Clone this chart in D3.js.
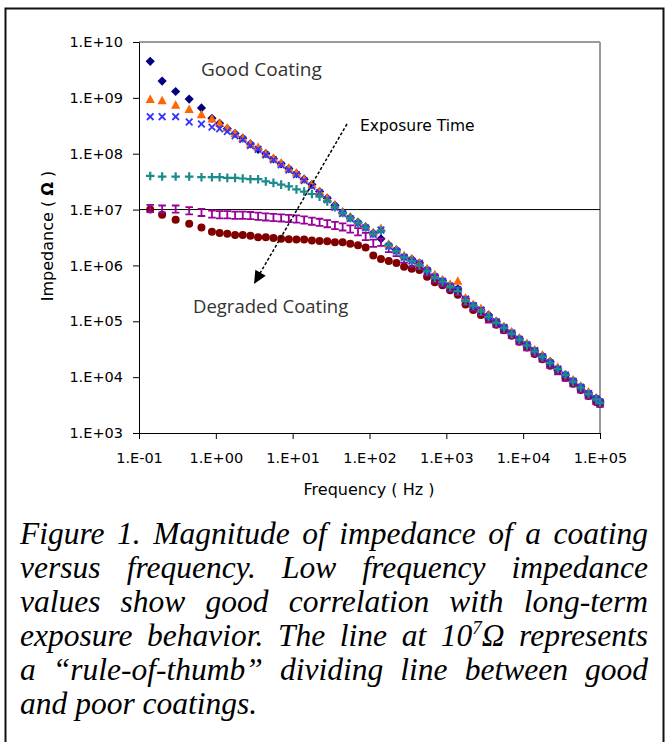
<!DOCTYPE html>
<html>
<head>
<meta charset="utf-8">
<script src="https://cdn.jsdelivr.net/npm/d3@7"></script>
<style>
  html, body { margin: 0; padding: 0; background: #fff; }
  svg { display: block; }
</style>
</head>
<body>
<script>
// ---------------- DATA ----------------
const freq = [0.14, 0.2, 0.3, 0.45, 0.65,
  0.89, 1.12, 1.41, 1.78, 2.24, 2.82, 3.55, 4.47, 5.62, 7.08,
  8.91, 11.2, 14.1, 17.8, 22.4, 28.2, 35.5, 44.7, 56.2, 70.8,
  89.1, 112, 141, 178, 224, 282, 355, 447, 562, 708,
  891, 1120, 1410, 1780, 2240, 2820, 3550, 4470, 5620, 7080,
  8910, 11200, 14100, 17800, 22400, 28200, 35500, 44700, 56200, 70800,
  89100, 100000];

const zDiamond = [4.5e9, 2.0e9, 1.3e9, 9.5e8, 6.6e8,
  4.3e8, 3.5e8, 2.8e8, 2.3e8, 1.9e8, 1.5e8, 1.2e8, 1.0e8, 8.1e7, 6.6e7,
  5.4e7, 4.4e7, 3.5e7, 2.8e7, 2.1e7, 1.6e7, 1.2e7, 8.9e6, 7.2e6, 5.9e6,
  4.9e6, 3.8e6, 3.0e6, 2.3e6, 1.9e6, 1.4e6, 1.3e6, 1.1e6, 8.5e5, 6.5e5,
  5.4e5, 4.4e5, 3.8e5, 2.5e5, 1.9e5, 1.6e5, 1.3e5, 1.0e5, 7.9e4, 6.3e4,
  4.9e4, 3.9e4, 3.0e4, 2.4e4, 1.9e4, 1.4e4, 1.1e4, 8.7e3, 6.8e3, 5.2e3,
  4.2e3, 3.7e3];

const zTriangle = [9.3e8, 8.9e8, 7.4e8, 6.2e8, 5.0e8,
  4.2e8, 3.5e8, 2.9e8, 2.3e8, 1.9e8, 1.5e8, 1.3e8, 1.0e8, 8.3e7, 6.8e7,
  5.5e7, 4.5e7, 3.5e7, 2.8e7, 2.1e7, 1.6e7, 1.2e7, 9.1e6, 7.4e6, 6.0e6,
  5.0e6, 3.9e6, 4.6e6, 2.4e6, 1.9e6, 1.5e6, 1.3e6, 1.1e6, 8.7e5, 6.8e5,
  5.5e5, 4.6e5, 5.2e5, 2.6e5, 2.0e5, 1.7e5, 1.3e5, 1.0e5, 8.1e4, 6.5e4,
  5.0e4, 4.0e4, 3.1e4, 2.5e4, 1.9e4, 1.5e4, 1.1e4, 8.9e3, 6.9e3, 5.4e3,
  4.2e3, 3.6e3];

const zCross = [4.6e8, 4.6e8, 4.6e8, 3.7e8, 3.4e8,
  3.0e8, 2.8e8, 2.5e8, 2.1e8, 1.8e8, 1.4e8, 1.2e8, 9.5e7, 7.8e7, 6.3e7,
  5.1e7, 4.2e7, 3.3e7, 2.6e7, 2.0e7, 1.5e7, 1.1e7, 8.5e6, 6.9e6, 5.6e6,
  4.7e6, 3.6e6, 4.3e6, 2.2e6, 1.8e6, 1.4e6, 1.2e6, 1.1e6, 8.1e5, 6.3e5,
  5.2e5, 4.3e5, 3.7e5, 2.5e5, 1.9e5, 1.6e5, 1.2e5, 9.8e4, 7.8e4, 6.2e4,
  4.8e4, 3.8e4, 3.0e4, 2.3e4, 1.8e4, 1.4e4, 1.1e4, 8.5e3, 6.6e3, 5.1e3,
  4.1e3, 3.6e3];

const zPlus = [4.0e7, 3.9e7, 3.9e7, 3.9e7, 3.8e7,
  3.8e7, 3.8e7, 3.7e7, 3.7e7, 3.6e7, 3.5e7, 3.5e7, 3.2e7, 3.0e7, 2.8e7,
  2.6e7, 2.3e7, 2.1e7, 1.9e7, 1.7e7, 1.4e7, 1.1e7, 8.7e6, 7.1e6, 5.8e6,
  4.8e6, 3.7e6, 4.2e6, 2.3e6, 1.8e6, 1.4e6, 1.2e6, 1.0e6, 7.9e5, 6.0e5,
  5.1e5, 4.1e5, 3.5e5, 2.3e5, 1.9e5, 1.5e5, 1.2e5, 9.5e4, 7.6e4, 6.0e4,
  4.7e4, 3.7e4, 2.9e4, 2.3e4, 1.8e4, 1.4e4, 1.1e4, 8.3e3, 6.5e3, 5.0e3,
  4.0e3, 3.5e3];

const zBar = [1.05e7, 1.02e7, 1.02e7, 9.5e6, 8.9e6,
  8.3e6, 8.1e6, 8.1e6, 7.9e6, 7.9e6, 7.8e6, 7.6e6, 7.4e6, 7.2e6, 7.1e6,
  6.9e6, 6.8e6, 6.5e6, 6.2e6, 5.9e6, 5.6e6, 5.2e6, 4.9e6, 4.5e6, 4.0e6,
  3.3e6, 2.5e6, 2.6e6, 2.0e6, 1.7e6, 1.3e6, 1.1e6, 1.0e6, 7.6e5, 5.8e5,
  4.9e5, 4.0e5, 3.4e5, 2.3e5, 1.8e5, 1.5e5, 1.1e5, 9.1e4, 7.2e4, 5.8e4,
  4.5e4, 3.5e4, 2.8e4, 2.2e4, 1.7e4, 1.3e4, 1.0e4, 7.9e3, 6.2e3, 4.8e3,
  3.8e3, 3.4e3];

const zCircle = [1.0e7, 8.1e6, 6.6e6, 5.6e6, 4.8e6,
  4.0e6, 3.8e6, 3.7e6, 3.5e6, 3.5e6, 3.4e6, 3.2e6, 3.2e6, 3.1e6, 3.0e6,
  2.95e6, 2.9e6, 2.9e6, 2.8e6, 2.75e6, 2.7e6, 2.6e6, 2.6e6, 2.45e6, 2.3e6,
  2.1e6, 1.5e6, 1.3e6, 1.2e6, 1.1e6, 9.5e5, 8.7e5, 8.3e5, 6.3e5, 5.0e5,
  4.4e5, 3.6e5, 3.0e5, 2.0e5, 1.6e5, 1.3e5, 1.1e5, 8.7e4, 6.9e4, 5.5e4,
  4.3e4, 3.4e4, 2.6e4, 2.1e4, 1.6e4, 1.3e4, 9.8e3, 7.6e3, 5.9e3, 4.6e3,
  3.6e3, 3.3e3];

const xTicks = [1e-1, 1e0, 1e1, 1e2, 1e3, 1e4, 1e5];
const xTickLabels = ["1.E-01", "1.E+00", "1.E+01", "1.E+02", "1.E+03", "1.E+04", "1.E+05"];
const yTicks = [1e3, 1e4, 1e5, 1e6, 1e7, 1e8, 1e9, 1e10];
const yTickLabels = ["1.E+03", "1.E+04", "1.E+05", "1.E+06", "1.E+07", "1.E+08", "1.E+09", "1.E+10"];
const ruleLine = [1e7];

const captionLines = [
  "Figure 1.  Magnitude of impedance of a coating",
  "versus frequency.  Low frequency impedance",
  "values show good correlation with long-term",
  "exposure behavior.  The line at 10^7Ω represents",
  "a \u201Crule-of-thumb\u201D dividing line between good",
  "and poor coatings."
];

// ---------------- CHART ----------------
const W = 666, H = 742;
const svg = d3.select("body").append("svg").attr("width", W).attr("height", H);
svg.append("rect").attr("width", W).attr("height", H).attr("fill", "#fff");

// outer frame
svg.append("rect").attr("x", 5.5).attr("y", 8.5).attr("width", 658).attr("height", 745)
  .attr("fill", "none").attr("stroke", "#111").attr("stroke-width", 2);

const x = d3.scaleLog().domain([1e-1, 1e5]).range([139, 600]);
const y = d3.scaleLog().domain([1e3, 1e10]).range([433, 42]);

// plot border (grey top and right)
svg.append("line").attr("x1", 139).attr("x2", 600).attr("y1", 42).attr("y2", 42)
  .attr("stroke", "#9a9a9a").attr("stroke-width", 2);
svg.append("line").attr("x1", 600).attr("x2", 600).attr("y1", 42).attr("y2", 433)
  .attr("stroke", "#9a9a9a").attr("stroke-width", 2);

// axes
const axisFont = "'DejaVu Sans', Verdana, sans-serif";
const gx = svg.append("g").attr("transform", "translate(0,433)")
  .call(d3.axisBottom(x).tickValues(xTicks).tickFormat((d, i) => xTickLabels[i])
    .tickSize(6).tickSizeOuter(0).tickPadding(14));
const gy = svg.append("g").attr("transform", "translate(139,0)")
  .call(d3.axisLeft(y).tickValues(yTicks).tickFormat((d, i) => yTickLabels[i])
    .tickSize(6).tickSizeOuter(0).tickPadding(10));
[gx, gy].forEach(g => {
  g.selectAll("text").attr("font-family", axisFont).attr("font-size", 14.5).attr("fill", "#000");
  g.selectAll("path,line").attr("stroke", "#000").attr("stroke-width", 1);
});

// rule-of-thumb line
svg.selectAll(".rule").data(ruleLine).enter().append("line")
  .attr("x1", 139).attr("x2", 600).attr("y1", d => y(d)).attr("y2", d => y(d))
  .attr("stroke", "#000").attr("stroke-width", 1);

// markers
const series = [
  { vals: zDiamond, color: "#000080", shape: "diamond" },
  { vals: zTriangle, color: "#ff6600", shape: "triangle" },
  { vals: zCircle, color: "#800000", shape: "circle" },
  { vals: zBar, color: "#990099", shape: "ibar" },
  { vals: zCross, color: "#3333ff", shape: "cross" },
  { vals: zPlus, color: "#1a8c8c", shape: "plus" }
];

series.forEach(s => {
  const pts = freq.map((f, i) => [x(f), y(s.vals[i])]);
  const g = svg.append("g");
  pts.forEach(([px, py]) => {
    if (s.shape === "diamond") {
      g.append("path").attr("d", `M${px},${py - 4.6}L${px + 4.6},${py}L${px},${py + 4.6}L${px - 4.6},${py}Z`)
        .attr("fill", s.color);
    } else if (s.shape === "triangle") {
      g.append("path").attr("d", `M${px},${py - 5}L${px + 4.6},${py + 3.5}L${px - 4.6},${py + 3.5}Z`)
        .attr("fill", s.color);
    } else if (s.shape === "circle") {
      g.append("circle").attr("cx", px).attr("cy", py).attr("r", 4).attr("fill", s.color);
    } else if (s.shape === "cross") {
      g.append("path").attr("d", `M${px - 3.3},${py - 3.3}L${px + 3.3},${py + 3.3}M${px + 3.3},${py - 3.3}L${px - 3.3},${py + 3.3}`)
        .attr("stroke", s.color).attr("stroke-width", 1.8).attr("fill", "none");
    } else if (s.shape === "plus") {
      g.append("path").attr("d", `M${px - 4.3},${py}L${px + 4.3},${py}M${px},${py - 4.3}L${px},${py + 4.3}`)
        .attr("stroke", s.color).attr("stroke-width", 2.2).attr("fill", "none");
    } else if (s.shape === "ibar") {
      g.append("path").attr("d", `M${px - 3.8},${py - 3.6}L${px + 3.8},${py - 3.6}M${px},${py - 3.6}L${px},${py + 3.6}M${px - 3.8},${py + 3.6}L${px + 3.8},${py + 3.6}`)
        .attr("stroke", s.color).attr("stroke-width", 1.8).attr("fill", "none");
    }
  });
});

// axis titles
svg.append("text").attr("x", 369).attr("y", 495).attr("text-anchor", "middle")
  .attr("font-family", axisFont).attr("font-size", 16).attr("fill", "#000")
  .text("Frequency ( Hz )");
const yt = svg.append("text").attr("transform", "translate(53,236) rotate(-90)")
  .attr("text-anchor", "middle").attr("font-family", axisFont).attr("font-size", 16).attr("fill", "#000");
yt.append("tspan").text("Impedance ( ");
yt.append("tspan").attr("font-weight", "bold").text("Ω");
yt.append("tspan").text(" )");

// annotations
const annFont = "'Open Sans', 'Noto Sans', sans-serif";
svg.append("text").attr("x", 201).attr("y", 76).attr("font-family", annFont).attr("font-size", 19)
  .attr("fill", "#333").text("Good Coating");
svg.append("text").attr("x", 193).attr("y", 313).attr("font-family", annFont).attr("font-size", 18.5)
  .attr("fill", "#333").text("Degraded Coating");
svg.append("text").attr("x", 360).attr("y", 131).attr("font-family", axisFont).attr("font-size", 15.5)
  .attr("fill", "#000").text("Exposure Time");

// arrow
svg.append("line").attr("x1", 347).attr("y1", 124).attr("x2", 259).attr("y2", 275)
  .attr("stroke", "#000").attr("stroke-width", 1.5).attr("stroke-dasharray", "3,2");
(function () {
  const x0 = 347, y0 = 124, x1 = 254, y1 = 284;
  const ang = Math.atan2(y1 - y0, x1 - x0);
  const L = 13, Wd = 6;
  const bx = x1 - L * Math.cos(ang), by = y1 - L * Math.sin(ang);
  const nx = -Math.sin(ang), ny = Math.cos(ang);
  svg.append("path")
    .attr("d", `M${x1},${y1}L${bx + nx * Wd},${by + ny * Wd}L${bx - nx * Wd},${by - ny * Wd}Z`)
    .attr("fill", "#000");
})();

// caption (justified)
const capFont = "'Liberation Serif', 'Times New Roman', serif";
const capSize = 31.5;
const left = 20, right = 648;
const baselines = [544, 578, 612, 646, 680, 714];
captionLines.forEach((line, li) => {
  const words = line.split(/\s+/);
  const nodes = words.map(w => {
    const t = svg.append("text").attr("y", baselines[li]).attr("font-family", capFont)
      .attr("font-style", "italic").attr("font-size", capSize).attr("fill", "#000");
    if (w.includes("^")) {
      const [a, rest] = w.split("^");
      t.append("tspan").text(a);
      t.append("tspan").attr("font-size", 19).attr("dy", -12).text(rest[0]);
      t.append("tspan").attr("dy", 12).text(rest.slice(1));
    } else {
      t.text(w);
    }
    return t;
  });
  const widths = nodes.map(n => n.node().getComputedTextLength());
  const total = d3.sum(widths);
  const last = li === captionLines.length - 1;
  const gap = last ? capSize * 0.25 : (right - left - total) / (words.length - 1);
  let cx = left;
  nodes.forEach((n, i) => { n.attr("x", cx); cx += widths[i] + gap; });
});
</script>
</body>
</html>
